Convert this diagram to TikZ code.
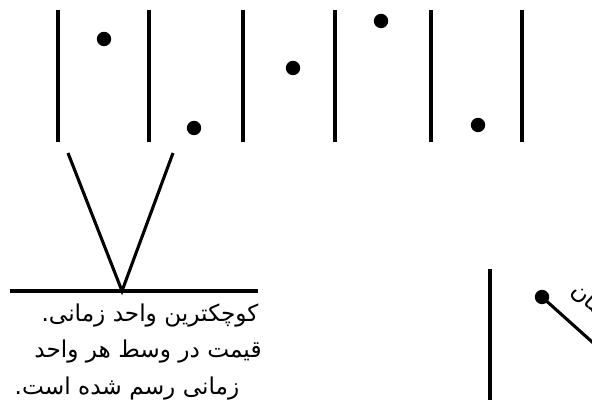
\documentclass[tikz,border=0pt]{standalone}
\usepackage{fontspec}
\newfontfamily\persianfont[Script=Arabic]{DejaVu Sans}
\TeXXeTstate=1

\begin{document}
\begin{tikzpicture}
  [x=0.025cm, y=-0.025cm,
   tick/.style={line width=2.2pt, draw=black},
   sample/.style={circle, fill=black, draw=none, inner sep=0pt, minimum size=0.36cm},
   pointer/.style={line width=2.2pt, draw=black},
   caption/.style={font=\persianfont\fontsize{16.5}{20}\selectfont, inner sep=0pt}]

  \useasboundingbox (0,0) rectangle (592,412);

  % Separadores de las unidades de tiempo
  \foreach \x [count=\i] in {58,149,243,335,431,522} {
    \coordinate (t\i a) at (\x,10);
    \coordinate (t\i b) at (\x,142);
    \draw[tick] (t\i a) -- (t\i b);
  }

  % Muestras
  \foreach \x/\y [count=\i] in {104/39, 194/128, 293/68, 381/21, 478/125}
    \node[sample] (s\i) at (\x,\y) {};

  % Zoom de una unidad
  \coordinate (vl) at (68,153);
  \coordinate (vr) at (173,153);
  \coordinate (apex) at (122,291);
  \coordinate (bl) at (10,291);
  \coordinate (br) at (258,291);
  \draw[pointer] (vl) -- (apex) -- (vr);
  \draw[pointer] (bl) -- (br);

  % Texto explicativo
  \node[caption] (c1) at (150,316) {\beginR کوچکترین واحد زمانی.\endR};
  \node[caption] (c2) at (148,352) {\beginR قیمت در وسط هر واحد\endR};
  \node[caption] (c3) at (127,389) {\beginR زمانی رسم شده است.\endR};

  % Eje inferior derecho
  \coordinate (a1) at (490,269);
  \coordinate (a2) at (490,400);
  \draw[tick] (a1) -- (a2);
  \node[sample] (p0) at (542,297) {};
  \coordinate (p1) at (610,358);
  \draw[pointer] (p0.center) -- (p1);
  \node[caption, rotate=-42, anchor=base west] (axl) at (570,292) {\beginR زمان\endR};
\end{tikzpicture}
\end{document}
